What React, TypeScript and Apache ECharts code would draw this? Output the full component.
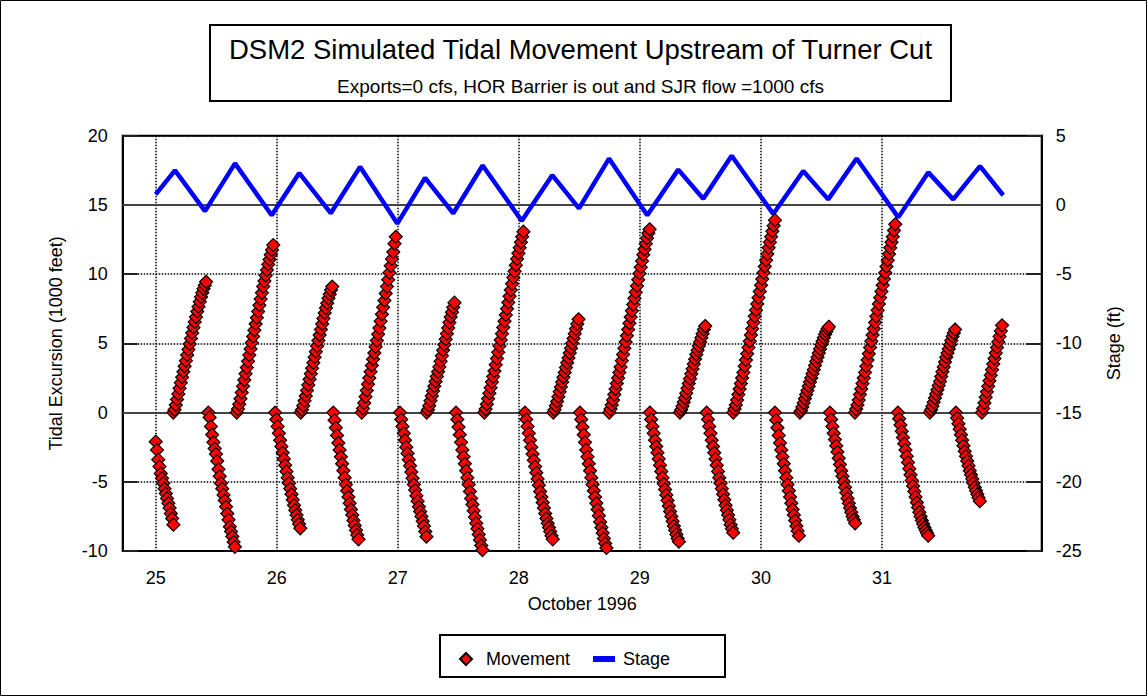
import React, { useEffect, useRef } from 'react';
import * as echarts from 'echarts';

const FONT = 'Arial, "Liberation Sans", sans-serif';

// Movement samples are every 15 minutes (1/96 day)
const STEP_DAYS = 1 / 96;

const titleText = 'DSM2 Simulated Tidal Movement Upstream of Turner Cut';
const subtitleText = 'Exports=0 cfs, HOR Barrier is out and SJR flow =1000 cfs';
const xAxisTitle = 'October 1996';
const leftAxisTitle = 'Tidal Excursion (1000 feet)';
const rightAxisTitle = 'Stage (ft)';

const xTickDays = [25, 26, 27, 28, 29, 30, 31];

// Start (day of October 1996) of each tidal excursion run
const segmentStarts = [
  25.0, 25.145, 25.435, 25.669, 25.986, 26.198, 26.467, 26.702, 27.018, 27.239,
  27.481, 27.715, 28.051, 28.285, 28.505, 28.747, 29.083, 29.331, 29.552, 29.772,
  30.116, 30.322, 30.57, 30.777, 31.132, 31.396, 31.611, 31.826,
];

// Tidal excursion (1000 ft) for each run, 15-minute samples
const movementSegments: number[][] = [
  [-2.1, -2.7, -3.4, -3.9, -4.4, -4.75, -5.1, -5.5, -5.85, -6.2, -6.55, -6.9, -7.3, -7.65, -8.1],
  [0, 0.2, 0.55, 0.95, 1.35, 1.75, 2.15, 2.55, 2.95, 3.35, 3.75, 4.15, 4.55, 4.95, 5.35, 5.75, 6.15, 6.55, 6.9, 7.3, 7.65, 8.0, 8.35, 8.65, 8.95, 9.2, 9.45],
  [0, -0.35, -1.0, -1.6, -2.15, -2.6, -3.0, -3.5, -4.1, -4.6, -5.1, -5.5, -5.95, -6.35, -6.8, -7.3, -7.75, -8.25, -8.6, -8.95, -9.35, -9.7],
  [0, 0.25, 0.6, 1.0, 1.45, 1.9, 2.35, 2.8, 3.25, 3.7, 4.15, 4.6, 5.05, 5.5, 5.95, 6.4, 6.85, 7.3, 7.75, 8.2, 8.65, 9.1, 9.5, 9.9, 10.3, 10.7, 11.05, 11.4, 11.75, 12.1],
  [0, -0.5, -1.0, -1.5, -2.0, -2.45, -2.9, -3.35, -3.8, -4.25, -4.7, -5.1, -5.5, -5.9, -6.3, -6.7, -7.05, -7.4, -7.75, -8.05, -8.36],
  [0, 0.2, 0.5, 0.85, 1.2, 1.6, 2.0, 2.4, 2.8, 3.2, 3.6, 4.0, 4.4, 4.8, 5.2, 5.6, 6.0, 6.4, 6.8, 7.2, 7.55, 7.9, 8.25, 8.55, 8.85, 9.1],
  [0, -0.55, -1.1, -1.65, -2.2, -2.7, -3.2, -3.7, -4.2, -4.7, -5.2, -5.65, -6.1, -6.55, -7.0, -7.4, -7.8, -8.15, -8.5, -8.85, -9.16],
  [0, 0.3, 0.7, 1.15, 1.6, 2.05, 2.5, 2.95, 3.4, 3.85, 4.3, 4.75, 5.2, 5.65, 6.1, 6.6, 7.1, 7.6, 8.1, 8.6, 9.1, 9.6, 10.1, 10.6, 11.1, 11.6, 12.2, 12.7],
  [0, -0.5, -1.0, -1.5, -2.0, -2.5, -2.95, -3.4, -3.85, -4.3, -4.75, -5.2, -5.6, -6.0, -6.4, -6.8, -7.15, -7.5, -7.85, -8.2, -8.6, -8.97],
  [0, 0.2, 0.5, 0.85, 1.2, 1.55, 1.9, 2.25, 2.6, 2.95, 3.3, 3.7, 4.1, 4.5, 4.9, 5.3, 5.7, 6.1, 6.5, 6.9, 7.25, 7.6, 7.94],
  [0, -0.5, -1.05, -1.6, -2.15, -2.7, -3.2, -3.7, -4.2, -4.7, -5.2, -5.7, -6.2, -6.65, -7.1, -7.55, -8.0, -8.4, -8.8, -9.2, -9.6, -9.93],
  [0, 0.25, 0.6, 1.0, 1.4, 1.8, 2.2, 2.6, 3.0, 3.45, 3.9, 4.35, 4.8, 5.25, 5.7, 6.15, 6.6, 7.05, 7.5, 7.95, 8.4, 8.85, 9.3, 9.75, 10.2, 10.65, 11.1, 11.5, 11.9, 12.3, 12.7, 13.07],
  [0, -0.5, -1.0, -1.5, -2.0, -2.5, -3.0, -3.45, -3.9, -4.35, -4.8, -5.25, -5.7, -6.1, -6.5, -6.9, -7.3, -7.65, -8.0, -8.3, -8.6, -8.9, -9.16],
  [0, 0.2, 0.5, 0.8, 1.15, 1.5, 1.85, 2.2, 2.55, 2.9, 3.25, 3.6, 3.95, 4.3, 4.65, 5.0, 5.35, 5.7, 6.05, 6.4, 6.74],
  [0, -0.5, -1.05, -1.6, -2.15, -2.7, -3.2, -3.7, -4.2, -4.7, -5.2, -5.65, -6.1, -6.55, -7.0, -7.45, -7.9, -8.3, -8.7, -9.1, -9.45, -9.78],
  [0, 0.25, 0.55, 0.9, 1.3, 1.7, 2.1, 2.5, 2.9, 3.3, 3.75, 4.2, 4.65, 5.1, 5.55, 6.0, 6.45, 6.9, 7.35, 7.8, 8.25, 8.7, 9.15, 9.6, 10.05, 10.5, 10.95, 11.4, 11.8, 12.2, 12.6, 12.95, 13.24],
  [0, -0.5, -1.0, -1.5, -2.0, -2.45, -2.9, -3.35, -3.8, -4.25, -4.7, -5.15, -5.55, -5.95, -6.35, -6.75, -7.15, -7.5, -7.85, -8.2, -8.5, -8.8, -9.1, -9.33],
  [0, 0.2, 0.45, 0.75, 1.05, 1.4, 1.75, 2.1, 2.45, 2.8, 3.15, 3.5, 3.85, 4.2, 4.5, 4.8, 5.1, 5.4, 5.7, 6.0, 6.25],
  [0, -0.5, -1.0, -1.5, -2.0, -2.45, -2.9, -3.35, -3.8, -4.25, -4.7, -5.1, -5.5, -5.9, -6.3, -6.7, -7.05, -7.4, -7.75, -8.1, -8.4, -8.68],
  [0, 0.25, 0.55, 0.9, 1.3, 1.7, 2.1, 2.5, 2.9, 3.35, 3.8, 4.25, 4.7, 5.15, 5.6, 6.05, 6.5, 6.95, 7.4, 7.85, 8.3, 8.75, 9.2, 9.65, 10.1, 10.55, 11.0, 11.45, 11.9, 12.3, 12.7, 13.1, 13.5, 13.9],
  [0, -0.55, -1.1, -1.65, -2.2, -2.7, -3.2, -3.7, -4.2, -4.7, -5.2, -5.65, -6.1, -6.55, -7.0, -7.4, -7.8, -8.2, -8.55, -8.9],
  [0, 0.15, 0.4, 0.7, 1.0, 1.3, 1.6, 1.9, 2.2, 2.5, 2.8, 3.1, 3.4, 3.7, 4.0, 4.3, 4.6, 4.9, 5.15, 5.4, 5.65, 5.85, 6.05, 6.2],
  [0, -0.5, -1.0, -1.5, -1.95, -2.4, -2.85, -3.3, -3.75, -4.2, -4.6, -5.0, -5.4, -5.8, -6.2, -6.55, -6.9, -7.2, -7.5, -7.75, -8.0],
  [0, 0.25, 0.55, 0.9, 1.3, 1.7, 2.1, 2.5, 2.9, 3.35, 3.8, 4.25, 4.7, 5.15, 5.6, 6.05, 6.5, 6.95, 7.4, 7.85, 8.3, 8.75, 9.2, 9.65, 10.1, 10.55, 11.0, 11.45, 11.9, 12.3, 12.7, 13.15, 13.6],
  [0, -0.45, -0.9, -1.35, -1.8, -2.25, -2.7, -3.15, -3.6, -4.05, -4.5, -4.9, -5.3, -5.7, -6.1, -6.5, -6.85, -7.2, -7.5, -7.8, -8.05, -8.3, -8.5, -8.7, -8.9],
  [0, 0.2, 0.45, 0.75, 1.05, 1.35, 1.65, 1.95, 2.25, 2.6, 2.95, 3.3, 3.65, 4.0, 4.3, 4.6, 4.9, 5.2, 5.5, 5.75, 6.0],
  [0, -0.4, -0.8, -1.2, -1.6, -2.0, -2.4, -2.8, -3.15, -3.5, -3.85, -4.2, -4.5, -4.8, -5.1, -5.4, -5.65, -5.9, -6.15, -6.4],
  [0, 0.3, 0.7, 1.1, 1.5, 1.9, 2.3, 2.7, 3.1, 3.5, 3.9, 4.3, 4.7, 5.1, 5.5, 5.9, 6.3],
];

// Stage (ft): times (day of October 1996) and values at turning points
const stageDays = [
  25.0, 25.159, 25.407, 25.655, 25.958, 26.186, 26.446, 26.688, 26.996, 27.225,
  27.458, 27.701, 28.024, 28.276, 28.497, 28.745, 29.061, 29.317, 29.524, 29.758,
  30.102, 30.35, 30.556, 30.791, 31.135, 31.383, 31.589, 31.81, 32.002,
];
const stageValues = [
  0.76, 2.5, -0.45, 3.0, -0.75, 2.3, -0.6, 2.75, -1.35, 1.95,
  -0.6, 2.85, -1.15, 2.15, -0.25, 3.35, -0.75, 2.55, 0.45, 3.55,
  -0.65, 2.45, 0.4, 3.35, -0.9, 2.35, 0.4, 2.8, 0.7,
];

export default function App() {
  const ref = useRef<HTMLDivElement>(null);

  useEffect(() => {
    document.body.style.margin = '0';
    if (!ref.current) return;
    const chart = echarts.init(ref.current, undefined, { renderer: 'svg' });

    const movementData: number[][] = [];
    movementSegments.forEach((vals, i) => {
      vals.forEach((v, j) => {
        movementData.push([segmentStarts[i] + j * STEP_DAYS, v]);
      });
    });
    const stageData = stageDays.map((d, i) => [d, stageValues[i]]);

    const dotted = { color: '#000', type: [1.5, 1.5] as number[], width: 1.5 };
    const tickFont = { fontSize: 18, color: '#000', fontFamily: FONT };

    chart.setOption({
      animation: false,
      backgroundColor: '#fff',
      textStyle: { fontFamily: FONT, color: '#000' },
      grid: {
        left: 122.7,
        right: 105.3,
        top: 135.7,
        bottom: 145,
        show: true,
        borderColor: '#000',
        borderWidth: 2,
        backgroundColor: 'transparent',
      },
      xAxis: {
        type: 'value',
        min: 24.727,
        max: 32.32,
        axisLine: { show: true, lineStyle: { color: '#000', width: 2 } },
        axisTick: { show: false, customValues: xTickDays },
        axisLabel: { ...tickFont, margin: 18, customValues: xTickDays, formatter: (v: number) => String(Math.round(v)) },
        splitLine: { show: true, lineStyle: dotted },
        name: xAxisTitle,
        nameLocation: 'middle',
        nameGap: 44,
        nameTextStyle: { fontSize: 18, color: '#000', fontFamily: FONT },
      },
      yAxis: [
        {
          type: 'value',
          position: 'left',
          min: -10,
          max: 20,
          interval: 5,
          axisLine: { show: true, lineStyle: { color: '#000', width: 2 } },
          axisTick: { show: true, inside: true, length: 15, lineStyle: { color: '#222', width: 2 } },
          axisLabel: { ...tickFont, margin: 15 },
          splitLine: { show: true, lineStyle: dotted },
          name: leftAxisTitle,
          nameLocation: 'middle',
          nameRotate: 90,
          nameGap: 58,
          nameTextStyle: { fontSize: 18, color: '#000', fontFamily: FONT },
        },
        {
          type: 'value',
          position: 'right',
          min: -25,
          max: 5,
          interval: 5,
          axisLine: { show: true, lineStyle: { color: '#000', width: 2 } },
          axisTick: { show: true, inside: true, length: 15, lineStyle: { color: '#222', width: 2 } },
          axisLabel: { ...tickFont, margin: 14 },
          splitLine: { show: false },
          name: rightAxisTitle,
          nameLocation: 'middle',
          nameRotate: 90,
          nameGap: 63,
          nameTextStyle: { fontSize: 18, color: '#000', fontFamily: FONT },
        },
      ],
      legend: [
        {
          data: [{ name: 'Movement', icon: 'diamond' }],
          left: 459,
          top: 650,
          padding: 0,
          itemWidth: 12,
          itemHeight: 12,
          textStyle: { fontSize: 18, color: '#000', fontFamily: FONT, padding: [0, 0, 0, 9] },
        },
        {
          data: [{ name: 'Stage', icon: 'rect' }],
          left: 593,
          top: 650,
          padding: 0,
          itemWidth: 22,
          itemHeight: 6,
          textStyle: { fontSize: 18, color: '#000', fontFamily: FONT, padding: [0, 0, 0, 3] },
        },
      ],
      graphic: [
        {
          type: 'rect',
          silent: true,
          shape: { x: 0.5, y: 0.5, width: 1146, height: 695 },
          style: { fill: 'none', stroke: '#000', lineWidth: 1 },
        },
        {
          type: 'rect',
          silent: true,
          shape: { x: 210, y: 25, width: 741, height: 76 },
          style: { fill: 'none', stroke: '#000', lineWidth: 2 },
        },
        {
          type: 'text',
          silent: true,
          x: 580.5,
          y: 49,
          style: { text: titleText, font: `27.5px ${FONT}`, fill: '#000', textAlign: 'center', textVerticalAlign: 'middle' },
        },
        {
          type: 'text',
          silent: true,
          x: 580.5,
          y: 86,
          style: { text: subtitleText, font: `19px ${FONT}`, fill: '#000', textAlign: 'center', textVerticalAlign: 'middle' },
        },
        {
          type: 'rect',
          silent: true,
          shape: { x: 440, y: 635, width: 285, height: 42 },
          style: { fill: 'none', stroke: '#000', lineWidth: 2 },
        },
      ],
      series: [
        {
          name: 'Movement',
          type: 'scatter',
          yAxisIndex: 0,
          symbol: 'diamond',
          symbolSize: 13,
          itemStyle: { color: '#FF0000', borderColor: '#000', borderWidth: 1.2, opacity: 1 },
          data: movementData,
          z: 3,
          markLine: {
            silent: true,
            symbol: 'none',
            z: 1,
            label: { show: false },
            lineStyle: { color: '#444', type: 'solid', width: 2 },
            data: [{ yAxis: 0 }],
          },
        },
        {
          name: 'Stage',
          type: 'line',
          yAxisIndex: 1,
          showSymbol: false,
          symbol: 'none',
          color: '#0000FF',
          lineStyle: { color: '#0000FF', width: 4.5 },
          data: stageData,
          z: 2,
          markLine: {
            silent: true,
            symbol: 'none',
            z: 1,
            label: { show: false },
            lineStyle: { color: '#444', type: 'solid', width: 2 },
            data: [{ yAxis: 0 }],
          },
        },
      ],
    });

    return () => {
      chart.dispose();
    };
  }, []);

  return <div ref={ref} style={{ width: 1147, height: 696 }} />;
}
